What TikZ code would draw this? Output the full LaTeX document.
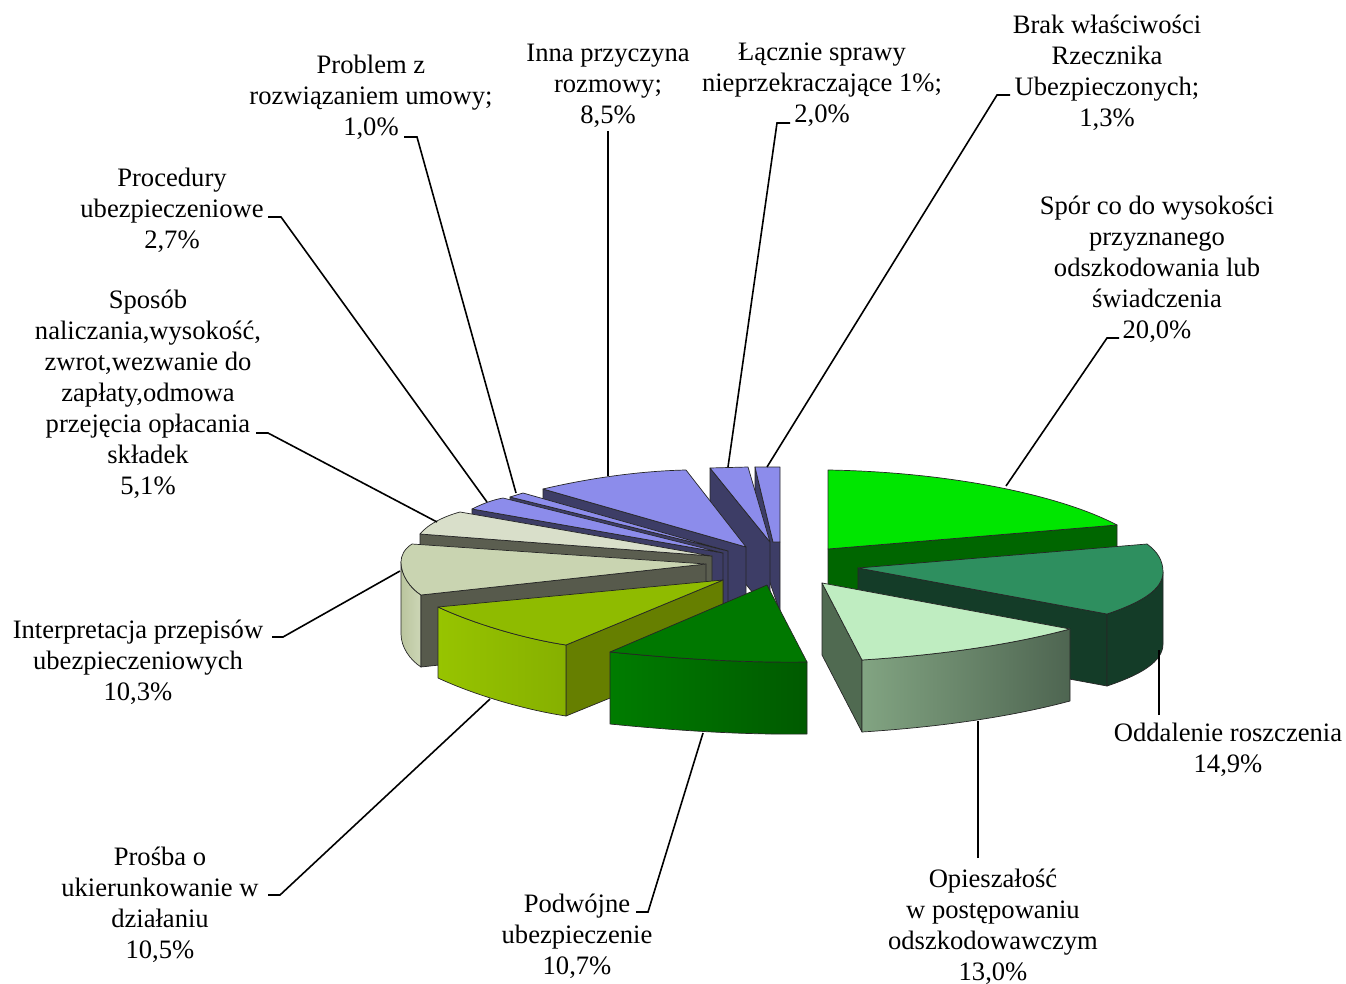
\documentclass[tikz,border=0pt]{standalone}
\usepackage{fontspec}
\setmainfont{Liberation Serif}
\definecolor{bluetop}{HTML}{8C8CEB}
\definecolor{bluedark}{HTML}{3D3D66}
\definecolor{gtop}{HTML}{D9DFCA}
\definecolor{gdark}{HTML}{5B5E50}
\definecolor{ftop}{HTML}{C9D4B1}
\definecolor{fsideL}{HTML}{BAC59E}
\definecolor{fsideR}{HTML}{CDD6B6}
\definecolor{fdark}{HTML}{575A4C}
\definecolor{etop}{HTML}{8FBB00}
\definecolor{efrontL}{HTML}{97C400}
\definecolor{efrontR}{HTML}{86B000}
\definecolor{edark}{HTML}{667F00}
\definecolor{dtop}{HTML}{007800}
\definecolor{dfrontL}{HTML}{007C00}
\definecolor{dfrontR}{HTML}{005A00}
\definecolor{atop}{HTML}{00E600}
\definecolor{adark}{HTML}{006600}
\definecolor{btop}{HTML}{2E8F5F}
\definecolor{bdark}{HTML}{143C28}
\definecolor{ctop}{HTML}{BFEDC1}
\definecolor{cleft}{HTML}{506A51}
\definecolor{cfrontL}{HTML}{82A482}
\definecolor{cfrontR}{HTML}{4E6551}
\begin{document}
\begin{tikzpicture}[x=1pt,y=-1pt,
  face/.style={draw=black!85,line width=0.7pt,line join=round},
  lbl/.style={align=center,inner sep=0pt,font={\fontsize{26.6}{31}\selectfont}},
  lead/.style={line width=1.6pt,draw=black,line join=miter}]
\useasboundingbox (0,0) rectangle (1346,984);
% ---- left group (back to front) ----
% L  Brak
\path[face,fill=bluedark] (755,467)--(773,542)--(780,542)--(780,612)--(755,539)--cycle;
\path[face,fill=bluetop] (755,467)--(780,467)--(780,542)--(773,542)--cycle;
% K  Lacznie
\path[face,fill=bluedark] (710,468)--(770,542)--(770,614)--(710,540)--cycle;
\path[face,fill=bluetop] (710,468)--(748,467)--(770,542)--cycle;
% J  Inna
\path[face,fill=bluedark] (543,489)--(746,547)--(746,619)--(543,561)--cycle;
\path[face,fill=bluetop] (746,547)--(543,489) .. controls (590,478) and (640,471) .. (686,470)--cycle;
% I  Problem
\path[face,fill=bluedark] (510,497)--(728,551)--(728,623)--(510,569)--cycle;
\path[face,fill=bluetop] (728,551)--(510,497)--(523,493)--cycle;
% H  Procedury
\path[face,fill=bluedark] (472,509)--(723,553)--(723,625)--(472,581)--cycle;
\path[face,fill=bluetop] (723,553)--(472,509) .. controls (482,504) and (492,500) .. (503,498)--cycle;
% G  Sposob
\path[face,fill=gdark] (420,534)--(712,556)--(712,628)--(420,606)--cycle;
\path[face,fill=gtop] (712,556)--(460,512) .. controls (445,516) and (428,524) .. (420,534)--cycle;
% F  Interpretacja
\path[face,left color=fsideL,right color=fsideR] (401,562) .. controls (401,575) and (410,588) .. (421,595) -- (421,667) .. controls (410,660) and (401,647) .. (401,634) -- cycle;
\path[face,fill=fdark] (421,595)--(706,564)--(706,636)--(421,667)--cycle;
\path[face,fill=ftop] (706,564)--(412,544) .. controls (404,549) and (401,556) .. (401,562) .. controls (401,575) and (410,588) .. (421,595)--cycle;
% E  Prosba
\path[face,fill=edark] (566,645)--(723,580)--(723,652)--(566,716)--cycle;
\path[face,left color=efrontL,right color=efrontR] (438,607) .. controls (470,622) and (520,638) .. (566,645) -- (566,716) .. controls (520,709) and (470,693) .. (438,678) -- cycle;
\path[face,fill=etop] (723,580)--(438,607) .. controls (470,622) and (520,638) .. (566,645)--cycle;
% D  Podwojne
\path[face,left color=dfrontL,right color=dfrontR] (610,652) .. controls (670,658) and (740,663) .. (807,662) -- (807,734) .. controls (740,735) and (670,730) .. (610,724) -- cycle;
\path[face,fill=dtop] (767,585)--(610,652) .. controls (670,658) and (740,663) .. (807,662)--cycle;
% ---- right group ----
% A  Spor
\path[face,fill=adark] (828,549)--(1117,525)--(1117,597)--(828,621)--cycle;
\path[face,fill=atop] (828,549)--(828,470) .. controls (950,472) and (1060,495) .. (1117,525)--cycle;
% B  Oddalenie
\path[face,fill=bdark] (858,568)--(1107,614)--(1107,686)--(858,640)--cycle;
\path[face,fill=bdark] (1163,572) .. controls (1163,590) and (1140,603) .. (1107,614) -- (1107,686) .. controls (1140,675) and (1163,662) .. (1163,644) -- cycle;
\path[face,fill=btop] (858,568)--(1147,544) .. controls (1158,552) and (1163,561) .. (1163,572) .. controls (1163,590) and (1140,603) .. (1107,614)--cycle;
% C  Opieszalosc
\path[face,fill=cleft] (822,583)--(862,660)--(862,732)--(822,655)--cycle;
\path[face,left color=cfrontL,right color=cfrontR] (862,660) .. controls (940,655) and (1010,645) .. (1070,629) -- (1070,701) .. controls (1010,717) and (940,727) .. (862,732) -- cycle;
\path[face,fill=ctop] (822,583)--(862,660) .. controls (940,655) and (1010,645) .. (1070,629)--cycle;
% ---- labels ----
\node[lbl] (brak) at (1107,73) {Brak właściwości\\Rzecznika\\Ubezpieczonych;\\1,3\%};
\node[lbl] (spor) at (1157,269.5) {Spór co do wysokości\\przyznanego\\odszkodowania lub\\świadczenia\\20,0\%};
\node[lbl] (lacz) at (822,84.5) {Łącznie sprawy\\nieprzekraczające 1\%;\\2,0\%};
\node[lbl] (inna) at (608,85.5) {Inna przyczyna\\rozmowy;\\8,5\%};
\node[lbl] (probl) at (371,97.5) {Problem z\\rozwiązaniem umowy;\\1,0\%};
\node[lbl] (proc) at (172,210.5) {Procedury\\ubezpieczeniowe\\2,7\%};
\node[lbl] (spos) at (148,394.5) {Sposób\\naliczania,wysokość,\\zwrot,wezwanie do\\zapłaty,odmowa\\przejęcia opłacania\\składek\\5,1\%};
\node[lbl] (interp) at (138,662.5) {Interpretacja przepisów\\ubezpieczeniowych\\10,3\%};
\node[lbl] (prosba) at (160,904.5) {Prośba o\\ukierunkowanie w\\działaniu\\10,5\%};
\node[lbl] (podw) at (577,936.5) {Podwójne\\ubezpieczenie\\10,7\%};
\node[lbl] (opiesz) at (993,927) {Opieszałość\\w postępowaniu\\odszkodowawczym\\13,0\%};
\node[lbl] (oddal) at (1228,750) {Oddalenie roszczenia\\14,9\%};
% ---- leader coordinates ----
\coordinate (sporT) at (1119,338); \coordinate (sporK) at (1107,338); \coordinate (sporE) at (1006,486);
\coordinate (brakT) at (1010,95); \coordinate (brakK) at (997,95); \coordinate (brakE) at (767,467);
\coordinate (laczT) at (790,123); \coordinate (laczK) at (777,123); \coordinate (laczE) at (728,467);
\coordinate (innaT) at (608,131); \coordinate (innaE) at (608,476);
\coordinate (problT) at (404,137); \coordinate (problK) at (417,137); \coordinate (problE) at (516,493);
\coordinate (procT) at (268,217); \coordinate (procK) at (281,217); \coordinate (procE) at (487,502);
\coordinate (sposT) at (256,433); \coordinate (sposK) at (268,433); \coordinate (sposE) at (437,522);
\coordinate (interpT) at (272,637); \coordinate (interpK) at (283,637); \coordinate (interpE) at (400,571);
\coordinate (prosbaT) at (268,895); \coordinate (prosbaK) at (280,895); \coordinate (prosbaE) at (490,699);
\coordinate (podwT) at (636,912); \coordinate (podwK) at (648,912); \coordinate (podwE) at (703,733);
\coordinate (opieszT) at (978,858); \coordinate (opieszE) at (978,721);
\coordinate (oddalT) at (1159,715); \coordinate (oddalE) at (1159,650);
\draw[lead] (sporT)--(sporK)--(sporE);
\draw[lead] (brakT)--(brakK)--(brakE);
\draw[lead] (laczT)--(laczK)--(laczE);
\draw[lead] (innaT)--(innaE);
\draw[lead] (problT)--(problK)--(problE);
\draw[lead] (procT)--(procK)--(procE);
\draw[lead] (sposT)--(sposK)--(sposE);
\draw[lead] (interpT)--(interpK)--(interpE);
\draw[lead] (prosbaT)--(prosbaK)--(prosbaE);
\draw[lead] (podwT)--(podwK)--(podwE);
\draw[lead] (opieszT)--(opieszE);
\draw[lead] (oddalT)--(oddalE);
\end{tikzpicture}
\end{document}
